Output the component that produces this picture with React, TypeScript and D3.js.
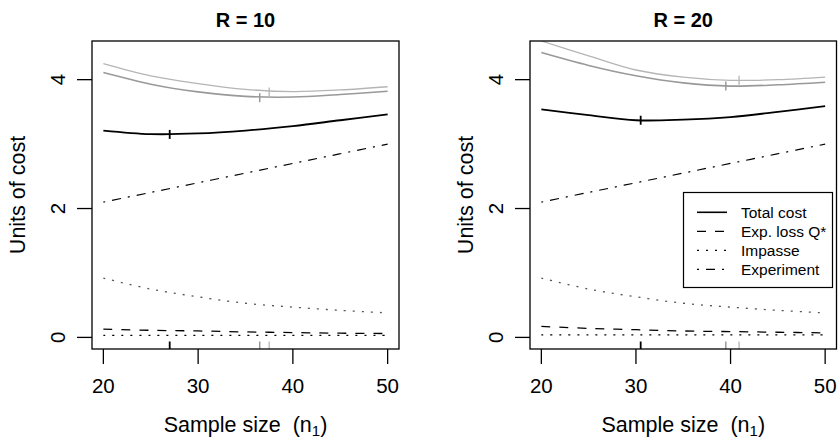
import React from "react";
import * as d3 from "d3";

const nValues = [20, 25, 30, 35, 40, 45, 50];
const experimentCost = [2.1, 2.25, 2.4, 2.55, 2.7, 2.85, 3.0];

const totalR10 = [3.21, 3.155, 3.165, 3.21, 3.28, 3.37, 3.46];
const greyLowR10 = [4.11, 3.93, 3.81, 3.74, 3.73, 3.77, 3.82];
const greyHighR10 = [4.25, 4.06, 3.94, 3.85, 3.815, 3.84, 3.89];
const expLossR10 = [0.13, 0.11, 0.1, 0.085, 0.075, 0.065, 0.06];
const impasseR10 = [0.92, 0.75, 0.63, 0.53, 0.47, 0.42, 0.38];
const lowDotR10 = [0.03, 0.03, 0.03, 0.03, 0.03, 0.03, 0.03];
const minNR10 = [27, 36.5, 37.5];
const minCostR10 = [3.15, 3.72, 3.81];

const totalR20 = [3.54, 3.45, 3.37, 3.38, 3.42, 3.5, 3.59];
const greyLowR20 = [4.42, 4.22, 4.06, 3.95, 3.9, 3.92, 3.96];
const greyHighR20 = [4.6, 4.37, 4.15, 4.04, 3.99, 4.0, 4.04];
const expLossR20 = [0.17, 0.14, 0.12, 0.1, 0.09, 0.08, 0.07];
const impasseR20 = [0.92, 0.75, 0.63, 0.53, 0.47, 0.42, 0.38];
const lowDotR20 = [0.04, 0.04, 0.04, 0.04, 0.04, 0.04, 0.04];
const minNR20 = [30.5, 39.5, 40.9];
const minCostR20 = [3.37, 3.9, 3.99];

const xTicks = [20, 30, 40, 50];
const yTicks = [0, 2, 4];
const legendLabels = ["Total cost", "Exp. loss Q*", "Impasse", "Experiment"];
const titles = ["R = 10", "R = 20"];

const FONT = "'Liberation Sans', Arial, Helvetica, sans-serif";
const DASH = "9,9";
const DOT = "2,7";
const DOTDASH = "2,7,9,7";

const panels = [
  {
    title: titles[0], x0: 92, x1: 399,
    total: totalR10, greyLow: greyLowR10, greyHigh: greyHighR10,
    expLoss: expLossR10, impasse: impasseR10, lowDot: lowDotR10,
    minN: minNR10, minCost: minCostR10, legend: false,
  },
  {
    title: titles[1], x0: 530, x1: 836.5,
    total: totalR20, greyLow: greyLowR20, greyHigh: greyHighR20,
    expLoss: expLossR20, impasse: impasseR20, lowDot: lowDotR20,
    minN: minNR20, minCost: minCostR20, legend: true,
  },
];

const Y_TOP = 41;
const Y_BOT = 349;

function Panel({ p, idx }: { p: any; idx: number }) {
  const x = d3.scaleLinear().domain([18.8, 51.2]).range([p.x0, p.x1]);
  const y = d3.scaleLinear().domain([-0.18, 4.6]).range([Y_BOT, Y_TOP]);
  const line = d3
    .line<number>()
    .x((_, i) => x(nValues[i]))
    .y((v) => y(v))
    .curve(d3.curveCatmullRom.alpha(0.5));
  const clipId = `clip${idx}`;
  const cx = (p.x0 + p.x1) / 2;
  const cy = (Y_TOP + Y_BOT) / 2;
  const markColors = ["#000", "#999", "#b5b5b5"];
  const markWidths = [1.8, 1.5, 1.3];
  const labelX = idx === 0 ? p.x0 - 67 : p.x0 - 57;
  return (
    <g>
      <defs>
        <clipPath id={clipId}>
          <rect x={p.x0} y={Y_TOP} width={p.x1 - p.x0} height={Y_BOT - Y_TOP} />
        </clipPath>
      </defs>
      <text x={cx} y={27} textAnchor="middle" fontWeight="bold" fontSize={20} fontFamily={FONT}>
        {p.title}
      </text>
      <g clipPath={`url(#${clipId})`} fill="none">
        <path d={line(p.greyHigh)!} stroke="#b5b5b5" strokeWidth={1.3} />
        <path d={line(p.greyLow)!} stroke="#999" strokeWidth={1.6} />
        <path d={line(p.total)!} stroke="#000" strokeWidth={1.8} />
        <path d={line(experimentCost)!} stroke="#000" strokeWidth={1.2} strokeDasharray={DOTDASH} />
        <path d={line(p.impasse)!} stroke="#555" strokeWidth={1.3} strokeDasharray={DOT} />
        <path d={line(p.expLoss)!} stroke="#000" strokeWidth={1.3} strokeDasharray={DASH} />
        <path d={line(p.lowDot)!} stroke="#000" strokeWidth={1.3} strokeDasharray={DOT} />
        {p.minN.map((n: number, i: number) => (
          <g key={i}>
            <line x1={x(n)} x2={x(n)} y1={y(p.minCost[i]) - 4.5} y2={y(p.minCost[i]) + 4.5}
              stroke={markColors[i]} strokeWidth={markWidths[i]} />
            <line x1={x(n)} x2={x(n)} y1={Y_BOT} y2={Y_BOT - 7.5}
              stroke={markColors[i]} strokeWidth={markWidths[i]} />
          </g>
        ))}
      </g>
      <rect x={p.x0} y={Y_TOP} width={p.x1 - p.x0} height={Y_BOT - Y_TOP} fill="none" stroke="#000" strokeWidth={1.3} />
      {xTicks.map((t) => (
        <g key={t}>
          <line x1={x(t)} x2={x(t)} y1={Y_BOT} y2={Y_BOT + 15} stroke="#000" strokeWidth={1.3} />
          <text x={x(t)} y={392.5} textAnchor="middle" fontSize={20.5} fontFamily={FONT}>{t}</text>
        </g>
      ))}
      {yTicks.map((t) => (
        <g key={t}>
          <line x1={p.x0} x2={p.x0 - 15} y1={y(t)} y2={y(t)} stroke="#000" strokeWidth={1.3} />
          <text transform={`translate(${p.x0 - 27},${y(t)}) rotate(-90)`} textAnchor="middle" fontSize={20.5} fontFamily={FONT}>{t}</text>
        </g>
      ))}
      <text transform={`translate(${labelX},${cy}) rotate(-90)`} textAnchor="middle" fontSize={21.5} fontFamily={FONT}>
        Units of cost
      </text>
      <text x={cx} y={432} textAnchor="middle" fontSize={21.5} fontFamily={FONT}>
        Sample size{"\u00a0\u00a0"}(n<tspan fontSize={15} dy={4}>1</tspan><tspan dy={-4}>)</tspan>
      </text>
      {p.legend && (
        <g>
          <rect x={683.5} y={192.5} width={149} height={95} fill="#fff" stroke="#000" strokeWidth={1.2} />
          {legendLabels.map((lab, i) => {
            const ly = 212.3 + i * 19;
            const dash = [null, DASH, DOT, DOTDASH][i];
            return (
              <g key={lab}>
                <line x1={697} x2={727} y1={ly} y2={ly} stroke="#000" strokeWidth={i === 0 ? 1.6 : 1.3}
                  strokeDasharray={dash || undefined} />
                <text x={741} y={ly + 5.5} fontSize={15.5} fontFamily={FONT}>{lab}</text>
              </g>
            );
          })}
        </g>
      )}
    </g>
  );
}

export default function App() {
  return (
    <svg width={838} height={438} style={{ position: "absolute", left: 0, top: 0, background: "#fff" }}>
      <rect width={838} height={438} fill="#fff" />
      {panels.map((p, i) => (
        <Panel key={i} p={p} idx={i} />
      ))}
    </svg>
  );
}
